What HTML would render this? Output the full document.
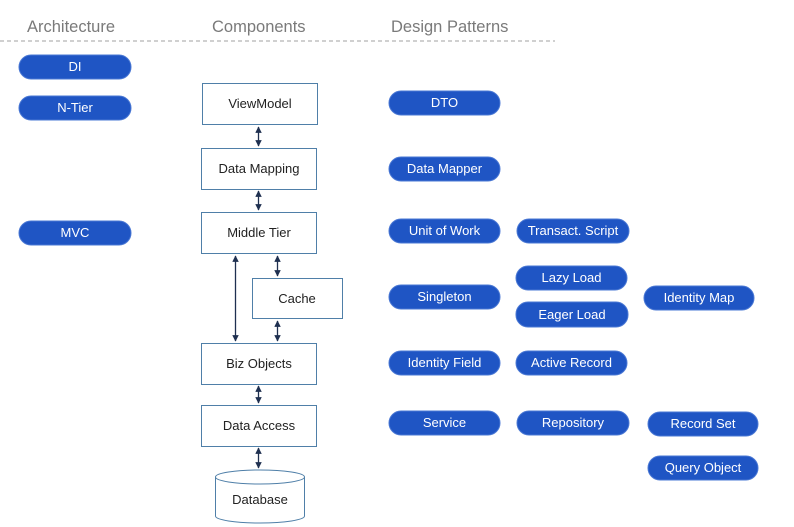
<!DOCTYPE html>
<html><head><meta charset="utf-8"><style>
html,body{margin:0;padding:0;background:#fff;}
svg{display:block;font-family:"Liberation Sans",sans-serif;}
.p rect{fill:#1f55c4;stroke:#4a78d4;stroke-width:1;}
.p text{fill:#fff;font-size:13px;text-anchor:middle;}
.b rect{fill:#fff;stroke:#4f7fa8;stroke-width:1;}
.b text{fill:#222;font-size:13px;text-anchor:middle;}
.h{fill:#7a7a7a;font-size:16.5px;}
.a{stroke:#1f3050;stroke-width:1.3;marker-start:url(#m);marker-end:url(#m);}
</style></head><body>
<svg width="794" height="527" viewBox="0 0 794 527">
<defs><marker id="m" viewBox="0 0 10 10" refX="9" refY="5" markerWidth="5" markerHeight="5" orient="auto-start-reverse"><path d="M0,0L10,5L0,10z" fill="#1f3050"/></marker></defs>
<text class="h" x="27" y="32">Architecture</text>
<text class="h" x="212" y="32">Components</text>
<text class="h" x="391" y="32">Design Patterns</text>
<line x1="0" y1="41" x2="555" y2="41" stroke="#a0a0a0" stroke-dasharray="4,3"/>

<g class="p">
<rect x="19" y="55" width="112" height="24" rx="12"/><text x="75" y="71">DI</text>
<rect x="19" y="96" width="112" height="24" rx="12"/><text x="75" y="112">N-Tier</text>
<rect x="19" y="221" width="112" height="24" rx="12"/><text x="75" y="237">MVC</text>

<rect x="389" y="91" width="111" height="24" rx="12"/><text x="444.5" y="107">DTO</text>
<rect x="389" y="157" width="111" height="24" rx="12"/><text x="444.5" y="173">Data Mapper</text>
<rect x="389" y="219" width="111" height="24" rx="12"/><text x="444.5" y="235">Unit of Work</text>
<rect x="517" y="219" width="112" height="24" rx="12"/><text x="573" y="235">Transact. Script</text>
<rect x="389" y="285" width="111" height="24" rx="12"/><text x="444.5" y="301">Singleton</text>
<rect x="516" y="266" width="111" height="24" rx="12"/><text x="571.5" y="282">Lazy Load</text>
<rect x="516" y="302" width="112" height="25" rx="12"/><text x="572" y="319">Eager Load</text>
<rect x="644" y="286" width="110" height="24" rx="12"/><text x="699" y="302">Identity Map</text>
<rect x="389" y="351" width="111" height="24" rx="12"/><text x="444.5" y="367">Identity Field</text>
<rect x="516" y="351" width="111" height="24" rx="12"/><text x="571.5" y="367">Active Record</text>
<rect x="389" y="411" width="111" height="24" rx="12"/><text x="444.5" y="427">Service</text>
<rect x="517" y="411" width="112" height="24" rx="12"/><text x="573" y="427">Repository</text>
<rect x="648" y="412" width="110" height="24" rx="12"/><text x="703" y="428">Record Set</text>
<rect x="648" y="456" width="110" height="24" rx="12"/><text x="703" y="472">Query Object</text>
</g>

<g class="b">
<rect x="202.5" y="83.5" width="115" height="41"/><text x="260" y="108">ViewModel</text>
<rect x="201.5" y="148.5" width="115" height="41"/><text x="259" y="173">Data Mapping</text>
<rect x="201.5" y="212.5" width="115" height="41"/><text x="259" y="237">Middle Tier</text>
<rect x="252.5" y="278.5" width="90" height="40"/><text x="297" y="303">Cache</text>
<rect x="201.5" y="343.5" width="115" height="41"/><text x="259" y="368">Biz Objects</text>
<rect x="201.5" y="405.5" width="115" height="41"/><text x="259" y="430">Data Access</text>
</g>
<g>
<path d="M215.5,477 L215.5,516 A44.5,7 0 0 0 304.5,516 L304.5,477" fill="#fff" stroke="#4f7fa8"/>
<ellipse cx="260" cy="477" rx="44.5" ry="7" fill="#fff" stroke="#4f7fa8"/>
<text x="260" y="504" font-size="13" fill="#222" text-anchor="middle">Database</text>
</g>

<line class="a" x1="258.5" y1="127" x2="258.5" y2="146"/>
<line class="a" x1="258.5" y1="191" x2="258.5" y2="210"/>
<line class="a" x1="235.5" y1="256" x2="235.5" y2="341"/>
<line class="a" x1="277.5" y1="256" x2="277.5" y2="276"/>
<line class="a" x1="277.5" y1="321" x2="277.5" y2="341"/>
<line class="a" x1="258.5" y1="386" x2="258.5" y2="403"/>
<line class="a" x1="258.5" y1="448" x2="258.5" y2="468"/>
</svg>
</body></html>
